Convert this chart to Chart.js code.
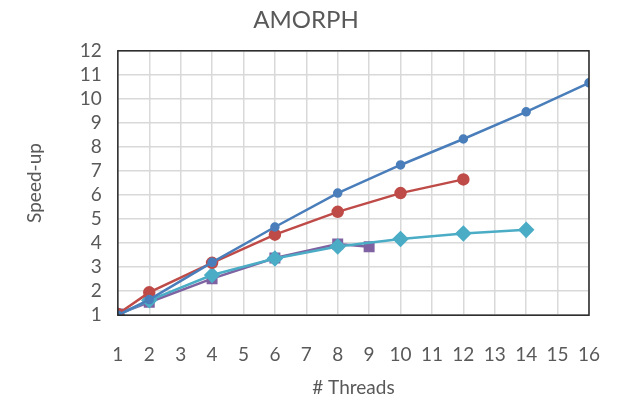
<!DOCTYPE html>
<html>
<head>
<meta charset="utf-8">
<script src="https://cdn.jsdelivr.net/npm/chart.js@4/dist/chart.umd.min.js"></script>
<style>
  html, body { margin: 0; padding: 0; background: #fff; }
  #wrap { width: 618px; height: 399px; }
</style>
</head>
<body>
<div id="wrap"><canvas id="chart1"></canvas></div>
<script>
// data
const blueThreads = [1, 2, 4, 6, 8, 10, 12, 14, 16];
const blueSpeedup = [1.0, 1.65, 3.2, 4.67, 6.08, 7.25, 8.33, 9.46, 10.67];

const redThreads = [1, 2, 4, 6, 8, 10, 12];
const redSpeedup = [1.05, 1.95, 3.18, 4.35, 5.3, 6.08, 6.65];

const cyanThreads = [1, 2, 4, 6, 8, 10, 12, 14];
const cyanSpeedup = [1.0, 1.62, 2.67, 3.36, 3.86, 4.17, 4.4, 4.55];

const purpleThreads = [1, 2, 4, 6, 8, 9];
const purpleSpeedup = [1.05, 1.54, 2.52, 3.38, 3.96, 3.85];

function pts(xs, ys) {
    return xs.map(function (x, i) { return { x: x, y: ys[i] }; });
}

const textGrey = '#595959';
const font = 'Lato, "Open Sans", sans-serif';

// box around the plot area
const frame = {
    id: 'frame',
    afterDraw: function (chart) {
        const a = chart.chartArea;
        const c = chart.ctx;
        c.save();
        c.strokeStyle = '#262626';
        c.lineWidth = 1.5;
        c.strokeRect(a.left, a.top, a.right - a.left, a.bottom - a.top);
        c.restore();
    }
};

var chart1 = document.getElementById('chart1').getContext('2d');
var myChart = new Chart(chart1, {
    type: 'line',
    data: {
        datasets: [{
            label: 'blue',
            data: pts(blueThreads, blueSpeedup),
            borderColor: '#4a7ebb',
            backgroundColor: '#4a7ebb',
            borderWidth: 2.5,
            pointStyle: 'circle',
            pointRadius: 3.5
        }, {
            label: 'red',
            data: pts(redThreads, redSpeedup),
            borderColor: '#be4b48',
            backgroundColor: '#be4b48',
            borderWidth: 2.5,
            pointStyle: 'circle',
            pointRadius: 5
        }, {
            label: 'cyan',
            data: pts(cyanThreads, cyanSpeedup),
            borderColor: '#4bacc6',
            backgroundColor: '#4bacc6',
            borderWidth: 2.5,
            pointStyle: 'rectRot',
            pointRadius: 6.5
        }, {
            label: 'purple',
            data: pts(purpleThreads, purpleSpeedup),
            borderColor: '#7f62a1',
            backgroundColor: '#7f62a1',
            borderWidth: 2.5,
            pointStyle: 'rect',
            pointRadius: 6
        }]
    },
    options: {
        animation: false,
        responsive: true,
        maintainAspectRatio: false,
        layout: { padding: { left: 23, right: 29, top: 0, bottom: 0 } },
        plugins: {
            legend: { display: false },
            tooltip: { enabled: false },
            title: {
                display: true,
                text: 'AMORPH',
                color: textGrey,
                font: { family: font, size: 24, weight: 'normal' },
                padding: { top: 6, bottom: 16 }
            }
        },
        scales: {
            x: {
                type: 'linear',
                min: 1,
                max: 16,
                // the big tick padding would otherwise push the right edge in
                afterFit: function (scale) { scale.paddingRight = 0; },
                ticks: {
                    stepSize: 1,
                    autoSkip: false,
                    maxRotation: 0,
                    color: textGrey,
                    font: { family: font, size: 19 },
                    padding: 28
                },
                grid: { color: '#d9d9d9', lineWidth: 1.5, drawTicks: false },
                border: { display: false },
                title: {
                    display: true,
                    text: '# Threads',
                    color: textGrey,
                    font: { family: font, size: 19, lineHeight: 1 },
                    padding: { top: -16, bottom: 2 }
                }
            },
            y: {
                min: 1,
                max: 12,
                ticks: {
                    stepSize: 1,
                    autoSkip: false,
                    color: textGrey,
                    font: { family: font, size: 19 },
                    padding: 16
                },
                grid: { color: '#d9d9d9', lineWidth: 1.5, drawTicks: false },
                border: { display: false },
                title: {
                    display: true,
                    text: 'Speed-up',
                    color: textGrey,
                    font: { family: font, size: 19 },
                    padding: { top: 0, bottom: 18 }
                }
            }
        }
    },
    plugins: [frame]
});
</script>
</body>
</html>
